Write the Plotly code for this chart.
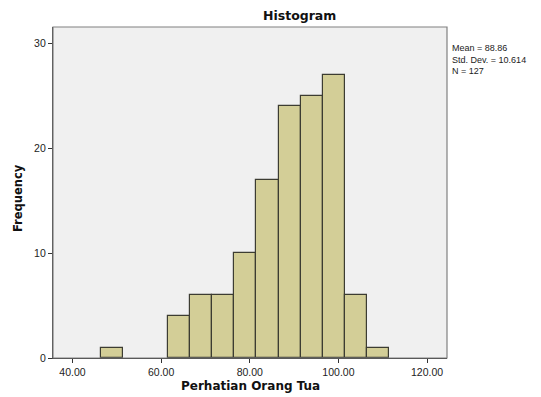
import plotly.graph_objects as go

bin_centers = [49, 54, 59, 64, 69, 74, 79, 84, 89, 94, 99, 104, 109]
counts = [1, 0, 0, 4, 6, 6, 10, 17, 24, 25, 27, 6, 1]
bin_width = 5
x_ticks = [40, 60, 80, 100, 120]
x_tick_labels = ["40.00", "60.00", "80.00", "100.00", "120.00"]
y_ticks = [0, 10, 20, 30]
stats_lines = ["Mean = 88.86", "Std. Dev. = 10.614", "N = 127"]

FONT = "Liberation Sans, Arial, sans-serif"
BOLD = "DejaVu Sans, Liberation Sans, Arial, sans-serif"

W, H = 541, 397
ML, MR, MT, MB = 53, 94, 27, 39
PW, PH = W - ML - MR, H - MT - MB

def px_x(px):
    return (px - ML) / PW

def px_y(py):
    return (H - MB - py) / PH

fig = go.Figure()
fig.add_trace(go.Bar(
    x=bin_centers, y=[c if c > 0 else None for c in counts],
    width=[bin_width] * len(bin_centers),
    marker=dict(color="#D3CE97", line=dict(color="#3C3C32", width=1.2)),
    hoverinfo="x+y",
))

annotations = [
    dict(text="<b>Histogram</b>", xref="paper", yref="paper", x=px_x(299), y=px_y(16),
         xanchor="center", yanchor="middle", showarrow=False,
         font=dict(family=BOLD, size=12.5, color="#111")),
    dict(text="<b>Perhatian Orang Tua</b>", xref="paper", yref="paper", x=px_x(251), y=px_y(386),
         xanchor="center", yanchor="middle", showarrow=False,
         font=dict(family=BOLD, size=12, color="#111")),
    dict(text="<b>Frequency</b>", xref="paper", yref="paper", x=px_x(18), y=px_y(198),
         xanchor="center", yanchor="middle", textangle=-90, showarrow=False,
         font=dict(family=BOLD, size=11.5, color="#111")),
    dict(text="<br>".join(stats_lines), xref="paper", yref="paper", x=px_x(450), xanchor="left",
         y=px_y(41), yanchor="top", align="left", showarrow=False,
         font=dict(size=9, color="#222")),
]

fig.update_layout(
    width=W, height=H,
    margin=dict(l=ML, r=MR, t=MT, b=MB, autoexpand=False),
    paper_bgcolor="white",
    plot_bgcolor="#F0F0F0",
    showlegend=False,
    bargap=0,
    font=dict(family=FONT, color="#222"),
    xaxis=dict(
        range=[35.6, 124.5], tickmode="array", tickvals=x_ticks, ticktext=x_tick_labels,
        ticks="outside", ticklen=4, tickcolor="#333", tickfont=dict(size=10.5, color="#222"),
        showgrid=False, zeroline=False, showline=True, linecolor="#333", linewidth=1.2,
        automargin=False,
    ),
    yaxis=dict(
        range=[0, 31.55], tickmode="array", tickvals=y_ticks,
        ticks="outside", ticklen=4, tickcolor="#333", tickfont=dict(size=10.5, color="#222"),
        showgrid=False, zeroline=False, showline=True, linecolor="#333", linewidth=1.2,
        automargin=False,
    ),
    shapes=[dict(type="rect", xref="paper", yref="paper", x0=0, x1=1, y0=0, y1=1,
                 line=dict(color="#808080", width=1.2), layer="above")],
    annotations=annotations,
)

fig.write_html("out.html", config={"displayModeBar": False},
               post_script="document.body.style.margin='0';document.body.style.overflow='hidden';")
